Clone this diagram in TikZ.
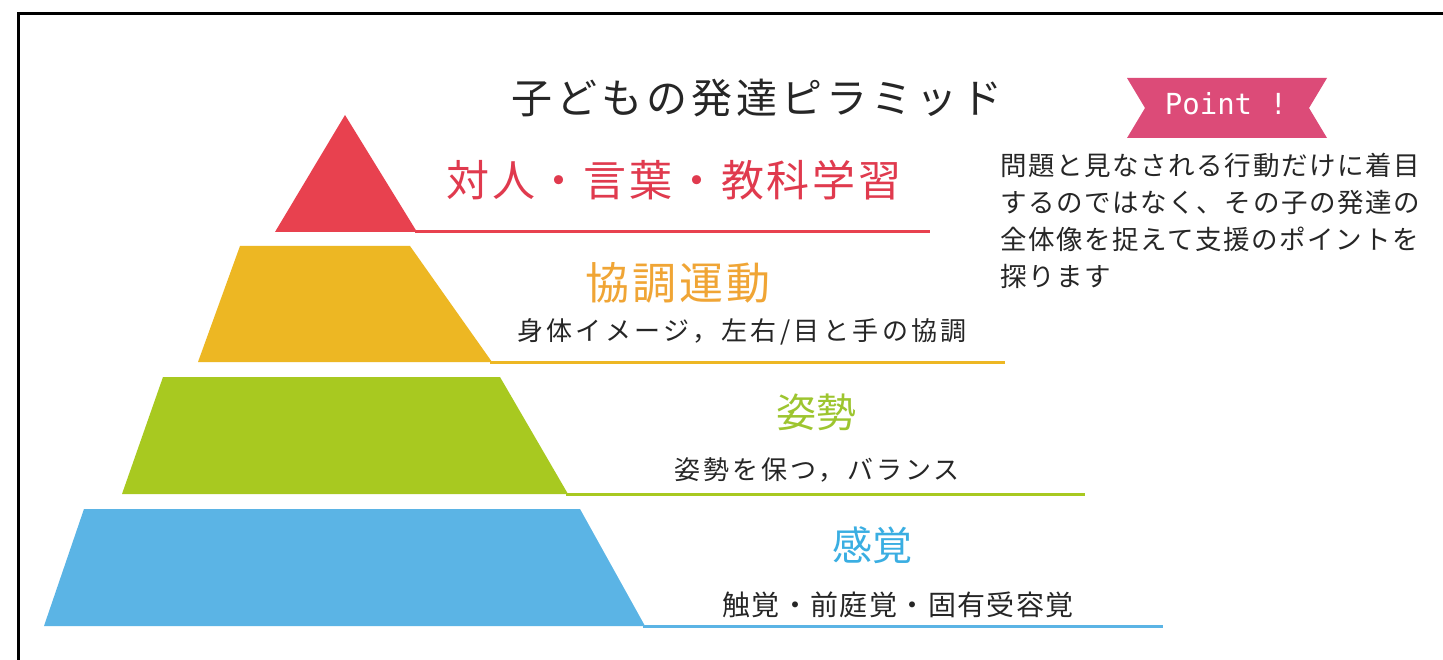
\documentclass[tikz,border=0pt]{standalone}
\usepackage{fontspec}
\newfontfamily\jp{Noto Sans CJK JP}
\newfontfamily\monof{DejaVu Sans Mono}
\definecolor{cred}{HTML}{E8414F}
\definecolor{cyel}{HTML}{EDB723}
\definecolor{cgrn}{HTML}{A8C920}
\definecolor{cblu}{HTML}{5BB4E5}
\definecolor{tred}{HTML}{E03A4E}
\definecolor{tyel}{HTML}{F0A535}
\definecolor{tgrn}{HTML}{9DC52F}
\definecolor{tblu}{HTML}{3AAEE2}
\definecolor{cpink}{HTML}{DC4B78}
\newcommand{\jpls}[2]{\jp\addfontfeature{LetterSpace=#2}\fontsize{#1}{#1}\selectfont}
\tikzset{
  baseline/.style={line width=3pt},
  biglabel/.style={inner sep=0pt, font=\jp\fontsize{40}{40}\selectfont},
  smalllabel/.style={inner sep=0pt, text=black!85},
  para/.style={inner sep=0pt, anchor=west, font=\jpls{26.5}{6}, text=black!85},
}
\begin{document}
\begin{tikzpicture}[x=1pt,y=-1pt]
\useasboundingbox (0,0) rectangle (1443,660);
\fill[white] (0,0) rectangle (1443,660);
% frame
\draw[line width=3pt] (18,660) -- (18,14) -- (1443,14);
% title
\node[inner sep=0pt, font=\jpls{41}{10}, text=black!85] (title) at (757,98) {子どもの発達ピラミッド};
% tiers
\fill[cred] (345,115) -- (417,232) -- (275,232) -- cycle;
\draw[cred, baseline] (415,232) -- (930,232);
\node[inner sep=0pt, text=tred, font=\jpls{43}{6.5}] (l1) at (674,180) {対人・言葉・教科学習};

\fill[cyel] (240,246) -- (410,246) -- (492,362) -- (198,362) -- cycle;
\draw[cyel, baseline] (490,362) -- (1005,362);
\node[inner sep=0pt, text=tyel, font=\jpls{44}{7}] (l2) at (678,283) {協調運動};
\node[smalllabel, font=\jpls{26}{13}] (s2) at (742,332) {身体イメージ，左右/目と手の協調};

\fill[cgrn] (163,377) -- (500,377) -- (568,494) -- (122,494) -- cycle;
\draw[cgrn, baseline] (566,494) -- (1085,494);
\node[biglabel, text=tgrn] (l3) at (816,412) {姿勢};
\node[smalllabel, font=\jpls{26}{11.5}] (s3) at (817,470) {姿勢を保つ，バランス};

\fill[cblu] (84,509) -- (580,509) -- (645,626) -- (44,626) -- cycle;
\draw[cblu, baseline] (643,626) -- (1163,626);
\node[biglabel, text=tblu] (l4) at (872,545) {感覚};
\node[smalllabel, font=\jpls{28}{5}] (s4) at (898,605) {触覚・前庭覚・固有受容覚};

% point badge
\fill[cpink] (1127,78) -- (1327,78) -- (1309,108) -- (1327,138) -- (1127,138) -- (1145,108) -- cycle;
\node[inner sep=0pt, text=white, font=\monof\fontsize{29}{29}\selectfont] (pt) at (1226,104) {Point !};
% paragraph
\node[para] (p1) at (1000,165) {問題と見なされる行動だけに着目};
\node[para] (p2) at (1000,202) {するのではなく、その子の発達の};
\node[para] (p3) at (1000,239) {全体像を捉えて支援のポイントを};
\node[para] (p4) at (1000,276) {探ります};
\end{tikzpicture}
\end{document}
